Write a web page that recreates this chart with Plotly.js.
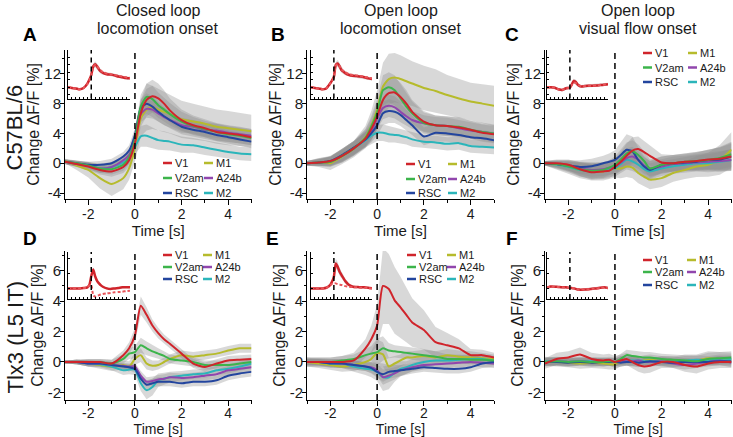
<!DOCTYPE html>
<html>
<head>
<meta charset="utf-8">
<script src="https://cdn.plot.ly/plotly-3.0.1.min.js"></script>
<style>
  body { margin: 0; background: #fff; }
  #chart { width: 733px; height: 437px; }
</style>
</head>
<body>
<div id="chart"></div>
<script>
// time base shared by every trace (s)
var T = [-3, -2.5, -2, -1.5, -1, -0.5, -0.25, 0, 0.25, 0.5, 0.75, 1, 1.25, 1.5, 2, 2.5, 3, 3.5, 4, 4.5, 5];

var areas = ['V1', 'V2am', 'RSC', 'M1', 'A24b', 'M2'];
var areaColors = ['#d0242b', '#3cb44b', '#23459e', '#b6bb2c', '#9146ad', '#2bb5ba'];

var colTitlesTop = ['Closed loop', 'Open loop', 'Open loop'];
var colTitlesBottom = ['locomotion onset', 'locomotion onset', 'visual flow onset'];
var rowLabels = ['C57BL/6', 'Tlx3 (L5 IT)'];
var panelLetters = ['A', 'B', 'C', 'D', 'E', 'F'];

var xTickVals = [-2, 0, 2, 4];
var xTickText = ['-2', '0', '2', '4'];
var xMinorVals = [-3, -1, 1, 3, 5];
var yTickValsTop = [-4, 0, 4, 8, 12];
var yTickTextTop = ['-4', '0', '4', '8', '12'];
var yMinorTop = [-2, 2, 6, 10, 14];
var yTickValsBot = [-2, 0, 2, 4, 6];
var yTickTextBot = ['-2', '0', '2', '4', '6'];
var yMinorBot = [-1, 1, 3, 5, 7];

// ---- A: C57BL/6, closed loop locomotion onset ----
var aV1   = [0.2, -0.1, -0.45, -0.9, -1.1, -0.5, 0.4, 2.7, 6.7, 8.5, 9.0, 8.7, 8.0, 7.1, 5.8, 5.1, 4.7, 4.2, 4.0, 3.8, 3.5];
var aV2am = [0.2, 0.0, -0.3, -0.7, -0.8, -0.2, 0.8, 3.2, 7.6, 8.9, 8.6, 7.8, 7.2, 6.6, 5.6, 5.0, 4.6, 4.2, 3.9, 3.7, 3.4];
var aRSC  = [0.2, 0.0, -0.2, -0.2, 0.0, 0.9, 1.7, 3.8, 7.4, 8.0, 7.6, 6.9, 6.3, 5.8, 4.9, 4.5, 4.2, 3.8, 3.5, 3.2, 2.9];
var aM1   = [0.3, -0.3, -0.9, -2.0, -2.8, -2.0, -0.7, 2.0, 6.0, 7.2, 7.5, 7.2, 6.9, 6.6, 5.9, 5.6, 5.3, 4.9, 4.7, 4.5, 4.3];
var aA24b = [0.2, -0.1, -0.3, -0.7, -0.5, 0.4, 1.1, 3.1, 6.6, 7.3, 7.2, 6.7, 6.2, 5.8, 5.1, 4.9, 4.5, 4.4, 4.1, 3.9, 3.7];
var aM2   = [0.2, -0.1, -0.3, -0.7, -0.5, 0.1, 0.8, 2.2, 3.6, 3.7, 3.4, 3.1, 3.0, 2.9, 2.5, 2.4, 2.1, 1.8, 1.5, 1.3, 1.2];
var aV1Err   = [0.3, 0.4, 0.5, 0.6, 0.7, 0.8, 0.9, 1.2, 1.8, 2.2, 2.2, 2.0, 1.8, 1.6, 1.4, 1.3, 1.2, 1.2, 1.1, 1.1, 1.1];
var aV2amErr = [0.3, 0.4, 0.5, 0.6, 0.7, 0.8, 0.9, 1.2, 1.6, 1.8, 1.8, 1.7, 1.6, 1.5, 1.3, 1.2, 1.1, 1.1, 1.0, 1.0, 1.0];
var aRSCErr  = [0.3, 0.3, 0.4, 0.5, 0.6, 0.6, 0.7, 0.9, 1.2, 1.4, 1.4, 1.3, 1.2, 1.1, 1.0, 1.0, 0.9, 0.9, 0.9, 0.9, 0.9];
var aM1Err   = [0.3, 0.6, 1.0, 1.4, 1.6, 1.5, 1.5, 1.8, 2.4, 2.8, 2.9, 2.8, 2.7, 2.6, 2.5, 2.4, 2.3, 2.3, 2.3, 2.2, 2.2];
var aA24bErr = [0.3, 0.3, 0.4, 0.5, 0.6, 0.6, 0.7, 0.9, 1.1, 1.2, 1.2, 1.1, 1.1, 1.0, 1.0, 0.9, 0.9, 0.9, 0.9, 0.9, 0.9];
var aM2Err   = [0.3, 0.4, 0.5, 0.6, 0.7, 0.7, 0.8, 1.0, 1.4, 1.5, 1.4, 1.3, 1.3, 1.2, 1.1, 1.0, 1.0, 0.9, 0.9, 0.9, 0.9];

// ---- B: C57BL/6, open loop locomotion onset ----
var bV1   = [0, 0.1, 0.3, 1.0, 2.0, 3.3, 4.6, 6.3, 8.5, 9.4, 9.5, 8.9, 8.0, 6.9, 5.6, 5.1, 5.0, 4.8, 4.5, 4.1, 3.9];
var bV2am = [0, 0.1, 0.2, 1.0, 2.0, 3.4, 4.9, 6.8, 9.8, 10.2, 9.8, 8.7, 7.6, 6.7, 5.4, 5.1, 5.0, 4.9, 4.5, 4.2, 4.0];
var bRSC  = [0, 0.1, 0.3, 1.1, 2.1, 3.2, 4.0, 5.1, 6.7, 7.0, 6.9, 6.5, 5.8, 5.1, 3.6, 4.1, 4.0, 3.8, 3.5, 3.35, 3.1];
var bM1   = [0, 0.1, 0.0, 0.9, 1.9, 3.5, 5.0, 7.2, 10.3, 11.3, 11.5, 11.3, 11.0, 10.7, 10.1, 9.7, 9.15, 8.7, 8.3, 8.0, 7.7];
var bA24b = [0, 0.1, 0.2, 1.0, 2.0, 3.3, 4.3, 6.0, 7.4, 7.7, 7.5, 6.9, 6.3, 5.8, 5.35, 5.1, 5.0, 4.7, 4.4, 4.2, 4.0];
var bM2   = [0, 0.1, 0.3, 1.0, 2.0, 3.1, 3.7, 4.1, 4.1, 3.9, 3.8, 3.7, 3.5, 3.2, 2.9, 2.8, 2.6, 2.7, 2.3, 2.2, 2.1];
var bV1Err   = [0.3, 0.5, 0.7, 0.9, 1.0, 1.2, 1.4, 1.8, 2.0, 2.0, 2.0, 1.9, 1.8, 1.6, 1.4, 1.3, 1.3, 1.3, 1.2, 1.2, 1.2];
var bV2amErr = [0.3, 0.5, 0.7, 0.9, 1.0, 1.2, 1.4, 1.8, 2.0, 2.0, 2.0, 1.9, 1.8, 1.6, 1.4, 1.3, 1.3, 1.3, 1.2, 1.2, 1.2];
var bRSCErr  = [0.3, 0.4, 0.6, 0.8, 0.9, 1.0, 1.2, 1.4, 1.6, 1.6, 1.5, 1.5, 1.4, 1.3, 1.2, 1.2, 1.1, 1.1, 1.1, 1.1, 1.1];
var bM1Err   = [0.3, 0.6, 0.9, 1.0, 1.1, 1.5, 2.0, 2.6, 3.2, 3.4, 3.3, 3.2, 3.1, 3.0, 3.0, 2.9, 2.7, 2.6, 2.5, 2.6, 2.7];
var bA24bErr = [0.3, 0.4, 0.6, 0.8, 0.9, 1.0, 1.2, 1.4, 1.5, 1.5, 1.5, 1.4, 1.3, 1.2, 1.1, 1.1, 1.1, 1.1, 1.0, 1.0, 1.0];
var bM2Err   = [0.3, 0.4, 0.6, 0.8, 0.9, 1.0, 1.1, 1.1, 1.1, 1.1, 1.0, 1.0, 1.0, 1.0, 0.9, 0.9, 0.9, 0.9, 0.9, 0.9, 0.9];

// ---- C: C57BL/6, open loop visual flow onset ----
var cV1   = [0, 0, -0.2, -0.8, -1.2, -1.1, -1.0, -0.5, 0.2, 1.0, 1.7, 1.9, 1.5, 1.0, 0.1, 0.0, 0.2, 0.3, 0.5, 0.6, 0.9];
var cV2am = [0, -0.1, -0.4, -0.8, -1.0, -0.9, -0.6, -0.2, 0.5, 1.3, 1.6, 1.1, 0.3, -0.7, -0.2, 0.0, 0.2, 0.3, 0.45, 0.7, 1.2];
var cRSC  = [0, -0.1, -0.3, -0.5, -0.4, 0.0, 0.2, 0.45, 1.1, 1.8, 1.6, 0.45, -0.45, -0.9, -0.2, 0.0, 0.1, 0.2, 0.45, 0.5, 0.9];
var cM1   = [0, -0.2, -0.5, -0.9, -1.1, -1.1, -0.9, -0.7, -0.7, -0.45, -0.6, -1.3, -1.8, -2.2, -2.0, -1.3, -0.9, -0.45, -0.2, 0.45, 1.8];
var cA24b = [0, -0.1, -0.4, -0.7, -0.9, -0.8, -0.6, -0.45, 0.1, 0.7, 0.9, 0.45, -0.3, -0.7, -0.45, -0.1, 0.0, 0.1, 0.2, 0.3, 0.45];
var cM2   = [0, -0.2, -0.5, -0.9, -1.1, -1.0, -0.8, -0.7, -0.1, 0.45, 0.25, -0.2, -0.8, -1.1, -0.7, -0.4, -0.2, 0.0, 0.0, 0.2, 0.45];
var cV1Err   = [0.3, 0.5, 0.7, 0.9, 1.0, 1.0, 1.0, 1.1, 1.3, 1.6, 1.8, 1.7, 1.5, 1.3, 1.1, 1.1, 1.1, 1.2, 1.3, 1.5, 1.7];
var cV2amErr = [0.3, 0.5, 0.7, 0.9, 1.0, 1.0, 1.0, 1.1, 1.3, 1.5, 1.5, 1.4, 1.3, 1.2, 1.1, 1.1, 1.1, 1.2, 1.3, 1.5, 1.7];
var cRSCErr  = [0.3, 0.5, 0.7, 0.9, 1.0, 1.0, 1.1, 1.3, 1.7, 2.1, 2.0, 1.7, 1.4, 1.2, 1.1, 1.1, 1.1, 1.2, 1.4, 1.6, 1.9];
var cM1Err   = [0.3, 0.6, 0.9, 1.1, 1.2, 1.2, 1.2, 1.2, 1.3, 1.4, 1.4, 1.4, 1.3, 1.3, 1.2, 1.2, 1.2, 1.4, 1.6, 2.0, 2.4];
var cA24bErr = [0.3, 0.4, 0.6, 0.8, 0.9, 0.9, 0.9, 1.0, 1.1, 1.3, 1.3, 1.2, 1.1, 1.0, 1.0, 1.0, 1.0, 1.1, 1.2, 1.3, 1.4];
var cM2Err   = [0.3, 0.5, 0.7, 0.9, 1.0, 1.0, 1.0, 1.1, 1.2, 1.3, 1.3, 1.2, 1.2, 1.1, 1.0, 1.0, 1.0, 1.1, 1.2, 1.3, 1.5];

// ---- D: Tlx3, closed loop locomotion onset ----
var dV1   = [0, 0, 0, 0, -0.1, 0.45, 0.9, 1.75, 3.7, 3.1, 2.4, 1.9, 1.5, 1.2, 0.55, -0.1, -0.33, -0.1, 0.1, 0.15, 0.2];
var dV2am = [0, 0, 0, 0, -0.1, 0.2, 0.55, 0.65, 1.1, 0.9, 0.7, 0.55, 0.4, 0.2, 0.1, 0.0, -0.2, -0.2, -0.2, -0.1, 0.0];
var dRSC  = [0, 0, -0.1, -0.1, -0.2, -0.3, -0.35, -0.45, -1.1, -1.5, -1.4, -1.3, -1.3, -1.3, -1.4, -1.3, -1.3, -1.2, -0.9, -0.75, -0.65];
var dM1   = [0, 0, -0.1, -0.2, -0.3, -0.2, -0.3, 0.2, 0.45, -0.1, -0.25, -0.2, 0.0, 0.2, 0.45, 0.35, 0.45, 0.55, 0.75, 0.9, 0.9];
var dA24b = [0, 0, -0.1, -0.1, -0.2, -0.25, -0.3, -0.3, -0.9, -1.3, -1.25, -1.15, -1.1, -1.0, -1.05, -1.0, -0.9, -0.8, -0.55, -0.45, -0.35];
var dM2   = [0, 0, -0.1, -0.15, -0.3, -0.55, -0.5, -0.5, -1.4, -1.85, -1.65, -1.2, -1.1, -1.0, -0.9, -0.8, -0.75, -0.55, -0.45, -0.3, -0.1];
var dV1Err   = [0.1, 0.15, 0.2, 0.2, 0.25, 0.3, 0.4, 0.5, 0.6, 0.5, 0.4, 0.35, 0.3, 0.3, 0.3, 0.3, 0.3, 0.3, 0.3, 0.3, 0.3];
var dV2amErr = [0.1, 0.15, 0.2, 0.2, 0.25, 0.3, 0.35, 0.4, 0.5, 0.45, 0.4, 0.35, 0.3, 0.3, 0.3, 0.3, 0.3, 0.3, 0.3, 0.3, 0.3];
var dRSCErr  = [0.1, 0.15, 0.2, 0.2, 0.2, 0.2, 0.2, 0.25, 0.3, 0.3, 0.3, 0.3, 0.3, 0.3, 0.3, 0.3, 0.3, 0.3, 0.3, 0.3, 0.3];
var dM1Err   = [0.1, 0.15, 0.2, 0.25, 0.3, 0.3, 0.35, 0.4, 0.45, 0.4, 0.35, 0.3, 0.3, 0.3, 0.3, 0.3, 0.3, 0.3, 0.3, 0.3, 0.3];
var dA24bErr = [0.1, 0.15, 0.2, 0.2, 0.2, 0.2, 0.2, 0.25, 0.3, 0.3, 0.3, 0.3, 0.3, 0.3, 0.3, 0.3, 0.3, 0.3, 0.3, 0.3, 0.3];
var dM2Err   = [0.1, 0.15, 0.2, 0.2, 0.25, 0.3, 0.3, 0.35, 0.5, 0.6, 0.55, 0.45, 0.4, 0.35, 0.3, 0.3, 0.3, 0.3, 0.3, 0.3, 0.3];

// ---- E: Tlx3, open loop locomotion onset ----
var eV1   = [0, 0, 0, 0, 0.1, 0.9, 1.5, 2.4, 5.0, 4.8, 4.05, 3.6, 3.1, 2.6, 2.1, 1.3, 1.1, 0.9, 0.45, 0.45, 0.3];
var eV2am = [0, 0, 0, 0.1, 0.2, 0.45, 0.55, 0.65, 0.9, 0.75, 0.7, 0.65, 0.6, 0.55, 0.45, 0.35, 0.2, 0.2, 0.15, 0.15, 0.1];
var eRSC  = [0, 0, -0.1, -0.1, -0.2, -0.3, -0.4, -0.65, -0.8, -0.65, -0.6, -0.55, -0.5, -0.45, -0.35, -0.4, -0.45, -0.45, -0.35, -0.1, 0.0];
var eM1   = [0, -0.1, -0.2, -0.3, -0.2, 0.0, 0.2, 0.6, 0.5, -0.3, -0.1, 0.1, 0.3, 0.3, 0.4, 0.3, 0.45, 0.35, 0.3, 0.25, 0.2];
var eA24b = [0, 0, -0.05, -0.1, -0.2, -0.3, -0.35, -0.55, -1.0, -0.9, -0.75, -0.55, -0.45, -0.35, -0.2, -0.15, -0.1, -0.05, 0.0, -0.05, -0.1];
var eM2   = [0, 0, -0.1, -0.1, -0.3, -0.45, -0.5, -0.65, -1.0, -1.0, -0.7, -0.45, -0.35, -0.2, 0.0, 0.1, 0.1, 0.15, 0.2, 0.2, 0.1];
var eV1Err   = [0.3, 0.3, 0.3, 0.4, 0.5, 0.6, 0.9, 1.4, 2.5, 2.3, 2.2, 2.0, 1.8, 1.6, 1.3, 1.0, 0.8, 0.6, 0.4, 0.35, 0.3];
var eV2amErr = [0.3, 0.3, 0.3, 0.3, 0.3, 0.4, 0.5, 0.9, 0.8, 0.5, 0.4, 0.4, 0.4, 0.4, 0.4, 0.35, 0.3, 0.3, 0.3, 0.3, 0.3];
var eRSCErr  = [0.2, 0.2, 0.25, 0.3, 0.3, 0.3, 0.35, 0.4, 0.5, 0.45, 0.4, 0.35, 0.35, 0.3, 0.3, 0.3, 0.3, 0.3, 0.3, 0.3, 0.3];
var eM1Err   = [0.3, 0.3, 0.3, 0.35, 0.4, 0.4, 0.5, 0.9, 0.8, 0.6, 0.5, 0.4, 0.4, 0.4, 0.4, 0.4, 0.4, 0.4, 0.4, 0.35, 0.3];
var eA24bErr = [0.2, 0.2, 0.25, 0.3, 0.3, 0.3, 0.35, 0.4, 0.5, 0.45, 0.4, 0.35, 0.35, 0.3, 0.3, 0.3, 0.3, 0.3, 0.3, 0.3, 0.3];
var eM2Err   = [0.2, 0.25, 0.3, 0.3, 0.35, 0.4, 0.5, 0.6, 0.9, 0.8, 0.6, 0.5, 0.4, 0.4, 0.35, 0.3, 0.3, 0.3, 0.3, 0.3, 0.3];

// ---- F: Tlx3, open loop visual flow onset ----
var fV1   = [-0.1, 0.2, 0.3, 0.5, 0.2, 0.1, 0.15, 0.0, 0.1, 0.2, 0.0, -0.2, -0.3, -0.25, 0.0, 0.0, -0.2, -0.3, -0.1, 0.0, 0.0];
var fV2am = [0, 0.05, 0.0, 0.05, 0.0, 0.0, 0.05, 0.0, 0.2, 0.45, 0.4, 0.35, 0.3, 0.3, 0.2, 0.15, 0.1, 0.05, 0.2, 0.25, 0.3];
var fRSC  = [0, 0.0, -0.05, 0.0, -0.05, 0.0, 0.0, 0.0, -0.05, 0.0, 0.0, -0.05, 0.0, 0.05, 0.0, -0.05, 0.0, 0.0, 0.0, 0.05, 0.05];
var fM1   = [0.05, 0.0, -0.05, -0.1, -0.05, -0.1, -0.15, -0.15, 0.05, 0.1, 0.05, 0.0, 0.1, 0.15, 0.05, 0.0, 0.1, 0.1, 0.25, 0.2, 0.15];
var fA24b = [0, 0.05, 0.0, 0.05, 0.0, 0.0, 0.0, 0.0, 0.1, 0.05, 0.05, 0.1, 0.0, 0.0, 0.05, -0.1, -0.2, -0.1, 0.0, 0.1, -0.05];
var fM2   = [0.05, 0.05, 0.0, 0.05, 0.05, 0.05, 0.0, 0.0, 0.05, 0.1, 0.1, 0.1, 0.05, 0.05, 0.05, 0.05, 0.1, 0.15, 0.1, 0.2, 0.2];
var fV1Err   = [0.35, 0.4, 0.4, 0.45, 0.4, 0.4, 0.4, 0.4, 0.4, 0.4, 0.45, 0.45, 0.45, 0.45, 0.4, 0.4, 0.45, 0.45, 0.4, 0.4, 0.4];
var fV2amErr = [0.3, 0.3, 0.3, 0.3, 0.3, 0.3, 0.3, 0.3, 0.35, 0.35, 0.35, 0.35, 0.35, 0.35, 0.35, 0.35, 0.35, 0.35, 0.4, 0.4, 0.4];
var fRSCErr  = [0.25, 0.25, 0.25, 0.25, 0.25, 0.25, 0.25, 0.25, 0.25, 0.25, 0.25, 0.25, 0.25, 0.25, 0.25, 0.25, 0.25, 0.25, 0.25, 0.25, 0.25];
var fM1Err   = [0.3, 0.3, 0.3, 0.35, 0.35, 0.35, 0.35, 0.35, 0.35, 0.35, 0.35, 0.35, 0.35, 0.35, 0.35, 0.35, 0.4, 0.4, 0.45, 0.45, 0.45];
var fA24bErr = [0.25, 0.25, 0.25, 0.25, 0.25, 0.25, 0.25, 0.25, 0.3, 0.3, 0.3, 0.3, 0.3, 0.3, 0.3, 0.3, 0.3, 0.3, 0.3, 0.3, 0.3];
var fM2Err   = [0.25, 0.25, 0.25, 0.25, 0.25, 0.25, 0.25, 0.25, 0.25, 0.25, 0.25, 0.25, 0.25, 0.25, 0.25, 0.25, 0.3, 0.3, 0.3, 0.3, 0.3];

// ---- insets: V1 response (solid), comparison trace (dashed), error ----
var insA     = [0, -0.1, -0.15, -0.27, -0.1, 0.5, 1.0, 1.65, 2.8, 3.1, 2.8, 2.4, 2.1, 1.95, 1.75, 1.7, 1.6, 1.45, 1.35, 1.25, 1.2];
var insADash = [0, -0.1, -0.15, -0.25, -0.1, 0.45, 0.95, 1.6, 2.7, 3.0, 2.85, 2.5, 2.25, 2.05, 1.85, 1.75, 1.65, 1.55, 1.45, 1.35, 1.25];
var insAErr  = [0.15, 0.15, 0.15, 0.15, 0.15, 0.2, 0.2, 0.25, 0.35, 0.4, 0.35, 0.3, 0.3, 0.25, 0.25, 0.25, 0.2, 0.2, 0.2, 0.2, 0.2];
var insB     = [0, -0.1, -0.15, -0.27, -0.15, 0.5, 0.9, 1.4, 3.0, 3.2, 2.8, 2.3, 2.1, 1.9, 1.65, 1.55, 1.5, 1.45, 1.35, 1.2, 1.1];
var insBDash = [0, -0.1, -0.15, -0.25, -0.15, 0.45, 0.85, 1.35, 2.9, 3.1, 2.85, 2.4, 2.2, 2.0, 1.75, 1.65, 1.6, 1.5, 1.4, 1.3, 1.2];
var insBErr  = [0.15, 0.15, 0.15, 0.15, 0.15, 0.2, 0.2, 0.3, 0.4, 0.45, 0.4, 0.35, 0.3, 0.3, 0.25, 0.25, 0.25, 0.2, 0.2, 0.2, 0.2];
var insC     = [0, 0, -0.05, -0.27, -0.36, -0.13, -0.1, -0.05, 0.4, 0.85, 0.75, 0.4, 0.2, 0.1, 0.18, 0.2, 0.22, 0.25, 0.3, 0.35, 0.4];
var insCDash = [0, 0, -0.05, -0.25, -0.33, -0.15, -0.1, -0.05, 0.3, 0.6, 0.6, 0.4, 0.25, 0.15, 0.18, 0.2, 0.22, 0.25, 0.3, 0.35, 0.4];
var insCErr  = [0.15, 0.15, 0.15, 0.2, 0.2, 0.2, 0.2, 0.2, 0.25, 0.3, 0.3, 0.25, 0.25, 0.2, 0.2, 0.2, 0.2, 0.2, 0.2, 0.2, 0.2];
var insD     = [0, 0, 0, 0, 0.02, 0.07, 0.22, 0.8, 1.25, 0.8, 0.5, 0.33, 0.2, 0.11, 0, -0.04, 0, 0.03, 0.07, 0.08, 0.07];
var insDDash = [0, 0, 0, 0, 0.02, 0.07, 0.2, 0.22, -0.44, -0.55, -0.5, -0.44, -0.4, -0.37, -0.33, -0.3, -0.26, -0.24, -0.22, -0.18, -0.15];
var insDErr  = [0.05, 0.05, 0.05, 0.05, 0.05, 0.06, 0.07, 0.1, 0.12, 0.1, 0.08, 0.07, 0.06, 0.06, 0.06, 0.06, 0.06, 0.06, 0.06, 0.06, 0.06];
var insE     = [0, 0, 0, 0, 0.04, 0.22, 0.44, 0.77, 1.65, 1.43, 1.1, 0.88, 0.68, 0.48, 0.22, 0.11, 0.09, 0.07, 0.07, 0.04, 0];
var insEDash = [0, 0, 0, 0, 0.04, 0.2, 0.3, 0.33, 0.33, 0.28, 0.25, 0.22, 0.18, 0.15, 0.11, 0.08, 0.07, 0.05, 0.04, 0.02, 0];
var insEErr  = [0.06, 0.06, 0.06, 0.06, 0.07, 0.1, 0.12, 0.18, 0.3, 0.3, 0.25, 0.22, 0.18, 0.15, 0.1, 0.08, 0.07, 0.07, 0.06, 0.06, 0.06];
var insF     = [0.04, 0.13, 0.11, 0.09, 0.07, 0.07, 0.05, 0.04, 0.02, 0, -0.03, -0.07, -0.08, -0.09, -0.07, -0.05, -0.02, 0.0, 0.04, 0.07, 0.02];
var insFDash = [0.04, 0.12, 0.1, 0.09, 0.07, 0.06, 0.05, 0.04, 0.03, 0.01, -0.02, -0.06, -0.07, -0.08, -0.06, -0.05, -0.02, 0.0, 0.03, 0.06, 0.02];
var insFErr  = [0.08, 0.08, 0.08, 0.08, 0.08, 0.08, 0.08, 0.08, 0.08, 0.08, 0.08, 0.08, 0.08, 0.08, 0.08, 0.08, 0.08, 0.08, 0.08, 0.08, 0.08];

var panelVals = [
  [aV1, aV2am, aRSC, aM1, aA24b, aM2],
  [bV1, bV2am, bRSC, bM1, bA24b, bM2],
  [cV1, cV2am, cRSC, cM1, cA24b, cM2],
  [dV1, dV2am, dRSC, dM1, dA24b, dM2],
  [eV1, eV2am, eRSC, eM1, eA24b, eM2],
  [fV1, fV2am, fRSC, fM1, fA24b, fM2]
];
var panelErrs = [
  [aV1Err, aV2amErr, aRSCErr, aM1Err, aA24bErr, aM2Err],
  [bV1Err, bV2amErr, bRSCErr, bM1Err, bA24bErr, bM2Err],
  [cV1Err, cV2amErr, cRSCErr, cM1Err, cA24bErr, cM2Err],
  [dV1Err, dV2amErr, dRSCErr, dM1Err, dA24bErr, dM2Err],
  [eV1Err, eV2amErr, eRSCErr, eM1Err, eA24bErr, eM2Err],
  [fV1Err, fV2amErr, fRSCErr, fM1Err, fA24bErr, fM2Err]
];
var insetVals = [insA, insB, insC, insD, insE, insF];
var insetDash = [insADash, insBDash, insCDash, insDDash, insEDash, insFDash];
var insetErrs = [insAErr, insBErr, insCErr, insDErr, insEErr, insFErr];

// ---- page geometry (pixels in the 733x437 frame) ----
var W = 733, H = 437;
function dx(a, b) { return [a / W, b / W]; }
function dy(top, bottom) { return [1 - bottom / H, 1 - top / H]; }

var colX = [[65, 251.5], [307, 494], [545, 731.5]];
var insetX = [[68, 130], [311, 372], [547, 608]];
var rowY = [[50, 199], [251, 400]];
var insetY = [[50, 98.5], [252, 299]];
var legendPos = [
  {x: [163, 204], y: [163, 178, 193]},
  {x: [406, 448], y: [164, 179, 193]},
  {x: [643, 688], y: [53, 67.5, 82]},
  {x: [163, 203], y: [255, 267, 279]},
  {x: [407, 447], y: [255, 267, 279]},
  {x: [643, 687], y: [260, 272, 285]}
];

var FONT = 'Liberation Sans, Arial, Helvetica, sans-serif';
var drawOrder = [3, 5, 4, 2, 1, 0]; // M1, M2, A24b, RSC, V2am, V1 (V1 on top)
var bandFill = 'rgba(140,140,140,0.34)';

function band(x, v, e, xa, ya) {
  var hi = v.map(function (d, k) { return d + e[k]; });
  var lo = v.map(function (d, k) { return d - e[k]; });
  return {
    x: x.concat(x.slice().reverse()),
    y: hi.concat(lo.slice().reverse()),
    xaxis: xa, yaxis: ya, type: 'scatter', mode: 'lines',
    fill: 'toself', fillcolor: bandFill, line: {width: 0},
    hoverinfo: 'skip', showlegend: false
  };
}

var data = [];
var layout = {
  width: W, height: H,
  margin: {l: 0, r: 0, t: 0, b: 0},
  paper_bgcolor: '#fff', plot_bgcolor: 'rgba(0,0,0,0)',
  font: {family: FONT, color: '#1a1a1a', size: 14},
  showlegend: false,
  shapes: [], annotations: []
};

for (var p = 0; p < 6; p++) {
  var row = p < 3 ? 0 : 1, col = p % 3;
  var n = p + 1, m = p + 7;
  var xa = 'x' + (n === 1 ? '' : n), ya = 'y' + (n === 1 ? '' : n);
  var xi = 'x' + m, yi = 'y' + m;

  // main axes
  layout['xaxis' + (n === 1 ? '' : n)] = {
    domain: dx(colX[col][0], colX[col][1]), anchor: ya, range: [-3, 5],
    showline: true, linecolor: '#000', linewidth: 1,
    ticks: 'outside', ticklen: 5, tickwidth: 1, tickcolor: '#000',
    tickmode: 'array', tickvals: xTickVals, ticktext: xTickText,
    ticklabelstandoff: row === 0 ? -3 : -5,
    minor: {tickmode: 'array', tickvals: xMinorVals, ticks: 'outside', ticklen: 3, tickcolor: '#000', showgrid: false},
    showgrid: false, zeroline: false, tickfont: {size: 14},
    title: {text: 'Time [s]', font: {size: row === 0 ? 15 : 14}, standoff: 0}
  };
  layout['yaxis' + (n === 1 ? '' : n)] = {
    domain: dy(rowY[row][0], rowY[row][1]), anchor: xa,
    range: row === 0 ? [-4.8, 15.2] : [-2.5, 7.3],
    showline: true, linecolor: '#000', linewidth: 1,
    ticks: 'outside', ticklen: 4, tickwidth: 1, tickcolor: '#000',
    tickmode: 'array', ticklabelstandoff: -4,
    tickvals: row === 0 ? yTickValsTop : yTickValsBot,
    ticktext: row === 0 ? yTickTextTop : yTickTextBot,
    minor: {tickmode: 'array', tickvals: row === 0 ? yMinorTop : yMinorBot, ticks: 'outside', ticklen: 2.5, tickcolor: '#000', showgrid: false},
    showgrid: false, zeroline: false, tickfont: {size: 15},
    title: {text: 'Change ΔF/F [%]', font: {size: 16}, standoff: 0}
  };
  // inset axes
  layout['xaxis' + m] = {
    domain: dx(insetX[col][0], insetX[col][1]), anchor: yi, range: [-3, 5],
    showline: true, linecolor: '#000', linewidth: 1,
    ticks: 'inside', ticklen: 2, tickwidth: 1, tickcolor: '#000', dtick: 0.5, tick0: 0,
    showticklabels: false, showgrid: false, zeroline: false
  };
  layout['yaxis' + m] = {
    domain: dy(insetY[row][0], insetY[row][1]), anchor: xi,
    range: row === 0 ? [-1.5, 5.0] : [-0.7, 2.4],
    showline: true, linecolor: '#000', linewidth: 1,
    ticks: 'inside', ticklen: 2, tickwidth: 1, tickcolor: '#000', dtick: 1,
    showticklabels: false, showgrid: false, zeroline: false
  };

  // SEM bands, then mean traces
  drawOrder.forEach(function (s) {
    data.push(band(T, panelVals[p][s], panelErrs[p][s], xa, ya));
  });
  drawOrder.forEach(function (s) {
    data.push({
      x: T, y: panelVals[p][s], xaxis: xa, yaxis: ya,
      type: 'scatter', mode: 'lines', name: areas[s],
      line: {color: areaColors[s], width: 2, shape: 'spline', smoothing: 0.6},
      hoverinfo: 'skip'
    });
  });

  // inset
  data.push(band(T, insetVals[p], insetErrs[p], xi, yi));
  data.push({
    x: T, y: insetVals[p], xaxis: xi, yaxis: yi, type: 'scatter', mode: 'lines',
    line: {color: '#d0242b', width: 2.5, shape: 'spline', smoothing: 0.6}, hoverinfo: 'skip'
  });
  data.push({
    x: T, y: insetDash[p], xaxis: xi, yaxis: yi, type: 'scatter', mode: 'lines',
    line: {color: '#e8555a', width: 2, dash: '3px,2px', shape: 'spline', smoothing: 0.6}, hoverinfo: 'skip'
  });

  // onset markers
  layout.shapes.push({type: 'line', xref: xa, yref: ya + ' domain', x0: 0, x1: 0, y0: 0, y1: 1,
    line: {color: '#000', width: 1.5, dash: '6px,4px'}, layer: 'above'});
  layout.shapes.push({type: 'line', xref: xi, yref: yi + ' domain', x0: 0, x1: 0, y0: 0, y1: 1,
    line: {color: '#000', width: 1.5, dash: '5px,4px'}, layer: 'above'});

  // legend: two columns of three
  var lp = legendPos[p];
  for (var s = 0; s < 6; s++) {
    var c = Math.floor(s / 3), r = s % 3;
    var x0 = lp.x[c], yy = lp.y[r];
    layout.shapes.push({type: 'line', xref: 'paper', yref: 'paper',
      x0: x0 / W, x1: (x0 + 9) / W, y0: 1 - yy / H, y1: 1 - yy / H,
      line: {color: areaColors[s], width: 2.5}});
    layout.annotations.push({xref: 'paper', yref: 'paper', x: (x0 + 10) / W, y: 1 - yy / H,
      xanchor: 'left', yanchor: 'middle', text: areas[s], showarrow: false,
      font: {size: 11, color: '#1a1a1a'}});
  }

  // panel letter
  layout.annotations.push({xref: 'paper', yref: 'paper',
    x: [30, 278, 512, 30, 272, 512][p] / W, y: 1 - [35, 35, 35, 238, 238, 238][p] / H,
    xanchor: 'center', yanchor: 'middle', text: '<b>' + panelLetters[p] + '</b>',
    showarrow: false, font: {size: 19, color: '#000'}});
}

// column titles, one annotation per line
for (var k = 0; k < 3; k++) {
  var cx = (colX[k][0] + colX[k][1]) / 2 / W;
  layout.annotations.push({xref: 'paper', yref: 'paper', x: cx, y: 1,
    xanchor: 'center', yanchor: 'top', text: colTitlesTop[k], showarrow: false,
    font: {size: 16, color: '#1a1a1a'}});
  layout.annotations.push({xref: 'paper', yref: 'paper', x: cx, y: 1 - 18 / H,
    xanchor: 'center', yanchor: 'top', text: colTitlesBottom[k], showarrow: false,
    font: {size: 16, color: '#1a1a1a'}});
}
// row labels
layout.annotations.push({xref: 'paper', yref: 'paper', x: 0, y: 1 - 128 / H,
  xanchor: 'left', yanchor: 'middle', textangle: -90, text: rowLabels[0],
  showarrow: false, font: {size: 22, color: '#1a1a1a'}});
layout.annotations.push({xref: 'paper', yref: 'paper', x: 0, y: 1 - 338 / H,
  xanchor: 'left', yanchor: 'middle', textangle: -90, text: rowLabels[1],
  showarrow: false, font: {size: 22, color: '#1a1a1a'}});

Plotly.newPlot('chart', data, layout, {staticPlot: true, displayModeBar: false});
</script>
</body>
</html>
